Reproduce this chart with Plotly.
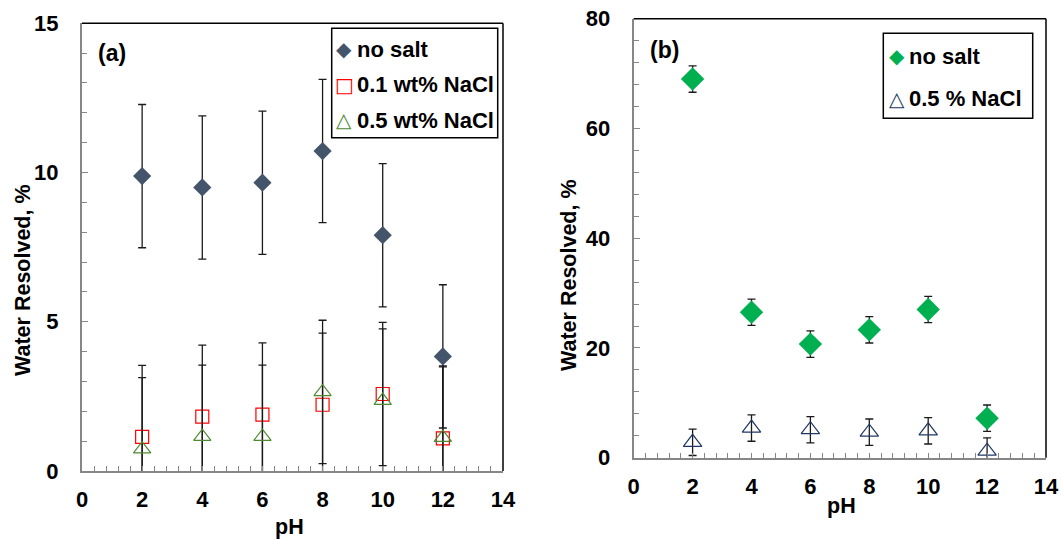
import plotly.graph_objects as go

# ---- data ----
ph = [2, 4, 6, 8, 10, 12]

# panel (a)
a_no_salt = [9.88, 9.50, 9.66, 10.72, 7.90, 3.84]
a_no_salt_err = [2.4, 2.4, 2.4, 2.4, 2.4, 2.4]
a_nacl01 = [1.14, 1.82, 1.89, 2.22, 2.58, 1.09]
a_nacl01_err = [2.4, 2.4, 2.4, 2.4, 2.4, 2.4]
a_nacl05 = [0.73, 1.15, 1.15, 2.65, 2.36, 1.12]
a_nacl05_err = [2.4, 2.4, 2.4, 2.4, 2.4, 2.4]

# panel (b)
b_no_salt = [69.0, 26.5, 20.7, 23.3, 27.0, 7.2]
b_no_salt_err = [2.4, 2.4, 2.4, 2.4, 2.4, 2.4]
b_nacl05 = [2.8, 5.4, 5.1, 4.65, 4.9, 1.2]
b_nacl05_err = [2.4, 2.4, 2.4, 2.4, 2.4, 2.4]

a_labels = ["no salt", "0.1 wt% NaCl", "0.5 wt% NaCl"]
b_labels = ["no salt", "0.5 % NaCl"]

FONT = "Arial, 'Liberation Sans', sans-serif"
SYMFONT = "'DejaVu Sans', sans-serif"
W, H = 1062, 539

C_NOSALT_A = "#44546A"
C_RED = "#FF0000"
C_GREEN_TRI = "#4E8A30"
C_NOSALT_B = "#00B050"
C_NAVY = "#1F3864"

fig = go.Figure()

def err(vals):
    return dict(type="data", array=vals, visible=True, color="#1a1a1a", thickness=1.3, width=4)

# panel a traces
fig.add_trace(go.Scatter(x=ph, y=a_no_salt, mode="markers", name=a_labels[0], showlegend=False,
                         marker=dict(symbol="diamond", size=14, color=C_NOSALT_A),
                         error_y=err(a_no_salt_err), xaxis="x", yaxis="y"))
fig.add_trace(go.Scatter(x=ph, y=a_nacl01, mode="markers", name=a_labels[1], showlegend=False,
                         marker=dict(symbol="square-open", size=13, color=C_RED, line=dict(width=1.2)),
                         error_y=err(a_nacl01_err), xaxis="x", yaxis="y"))
fig.add_trace(go.Scatter(x=ph, y=a_nacl05, mode="markers", name=a_labels[2], showlegend=False,
                         marker=dict(symbol="triangle-up-open", size=15, color=C_GREEN_TRI, line=dict(width=1.2)),
                         error_y=err(a_nacl05_err), xaxis="x", yaxis="y"))

# panel b traces
fig.add_trace(go.Scatter(x=ph, y=b_no_salt, mode="markers", name=b_labels[0], showlegend=False,
                         marker=dict(symbol="diamond", size=18, color=C_NOSALT_B),
                         error_y=err(b_no_salt_err), xaxis="x2", yaxis="y2"))
fig.add_trace(go.Scatter(x=ph, y=b_nacl05, mode="markers", name=b_labels[1], showlegend=False,
                         marker=dict(symbol="triangle-up-open", size=16, color=C_NAVY, line=dict(width=1.2)),
                         error_y=err(b_nacl05_err), xaxis="x2", yaxis="y2"))

tickfont = dict(family=FONT, size=22, color="black", weight="bold")
titlefont = dict(family=FONT, size=21.5, color="black", weight="bold")

def xax(domain, anchor):
    return dict(domain=domain, anchor=anchor, range=[0, 14], dtick=2, tick0=0, automargin=False,
                showgrid=False, zeroline=False, showline=True, linecolor="#868686", linewidth=2,
                ticks="inside", ticklen=5, tickcolor="#868686",
                minor=dict(dtick=0.4, tick0=0, ticks="inside", ticklen=5, tickcolor="#868686"),
                tickfont=tickfont, ticklabelstandoff=8)

def yax(domain, anchor, rng, dt, mdt):
    return dict(domain=domain, anchor=anchor, range=rng, dtick=dt, tick0=0, automargin=False,
                showgrid=False, zeroline=False, showline=True, linecolor="#868686", linewidth=2,
                ticks="inside", ticklen=6, tickcolor="#868686",
                minor=dict(dtick=mdt, tick0=0, ticks="inside", ticklen=5, tickcolor="#868686"),
                tickfont=tickfont, ticklabelstandoff=17)

ax_dom = [82 / W, 503 / W]
ay_dom = [1 - 471 / H, 1 - 23.3 / H]
bx_dom = [633.7 / W, 1046 / W]
by_dom = [1 - 457.7 / H, 1 - 18.7 / H]

def px(x):
    return x / W

def py(y):
    return 1 - y / H

annotations = []

def text_ann(text, x, y, font, xanchor="center", yanchor="middle", angle=0):
    annotations.append(dict(text=text, x=px(x), y=py(y), xref="paper", yref="paper",
                            showarrow=False, xanchor=xanchor, yanchor=yanchor,
                            textangle=angle, font=font))

# panel labels
text_ann("(a)", 112, 53, dict(family=FONT, size=23, color="black", weight="bold"))
text_ann("(b)", 664, 50, dict(family=FONT, size=23, color="black", weight="bold"))

# axis titles
text_ann("Water Resolved, %", 23, 280, titlefont, angle=-90)
text_ann("Water Resolved, %", 569, 275, titlefont, angle=-90)
text_ann("pH", 289, 527, titlefont)
text_ann("pH", 841, 506, titlefont)

# legend (a)
legfont = dict(family=FONT, size=22, color="black", weight="bold")
a_sym = [("◆", C_NOSALT_A), ("□", C_RED), ("△", C_GREEN_TRI)]
a_rows = [49, 84.5, 120]
for (s, c), lab, yy in zip(a_sym, a_labels, a_rows):
    text_ann(s, 344, yy, dict(family=SYMFONT, size=20, color=c))
    text_ann(lab, 355, yy, legfont, xanchor="left")

# legend (b)
b_sym = [("◆", C_NOSALT_B), ("△", C_NAVY)]
b_rows = [56, 98.5]
for (s, c), lab, yy in zip(b_sym, b_labels, b_rows):
    text_ann(s, 897, yy, dict(family=SYMFONT, size=20, color=c))
    text_ann(lab, 907, yy, legfont, xanchor="left")

shapes = [
    dict(type="line", xref="x domain", yref="y domain", x0=0, x1=1, y0=1, y1=1,
         line=dict(color="black", width=1.5)),
    dict(type="line", xref="x domain", yref="y domain", x0=1, x1=1, y0=0, y1=1,
         line=dict(color="black", width=1.5)),
    dict(type="line", xref="x2 domain", yref="y2 domain", x0=0, x1=1, y0=1, y1=1,
         line=dict(color="black", width=1.5)),
    dict(type="line", xref="x2 domain", yref="y2 domain", x0=1, x1=1, y0=0, y1=1,
         line=dict(color="black", width=1.5)),
    # legend boxes
    dict(type="rect", xref="paper", yref="paper", x0=px(331.7), x1=px(497.7), y0=py(137.7), y1=py(28.3),
         line=dict(color="black", width=1.5), fillcolor="white", layer="above"),
    dict(type="rect", xref="paper", yref="paper", x0=px(883.3), x1=px(1032.7), y0=py(118.3), y1=py(33.3),
         line=dict(color="black", width=1.5), fillcolor="white", layer="above"),
]

fig.update_layout(
    width=W, height=H,
    margin=dict(l=0, r=0, t=0, b=0),
    paper_bgcolor="white", plot_bgcolor="white",
    showlegend=False,
    xaxis=xax(ax_dom, "y"),
    yaxis=yax(ay_dom, "x", [0, 15], 5, 1),
    xaxis2=xax(bx_dom, "y2"),
    yaxis2=yax(by_dom, "x2", [0, 80], 20, 4),
    annotations=annotations,
    shapes=shapes,
)

fig.write_html("out.html")
